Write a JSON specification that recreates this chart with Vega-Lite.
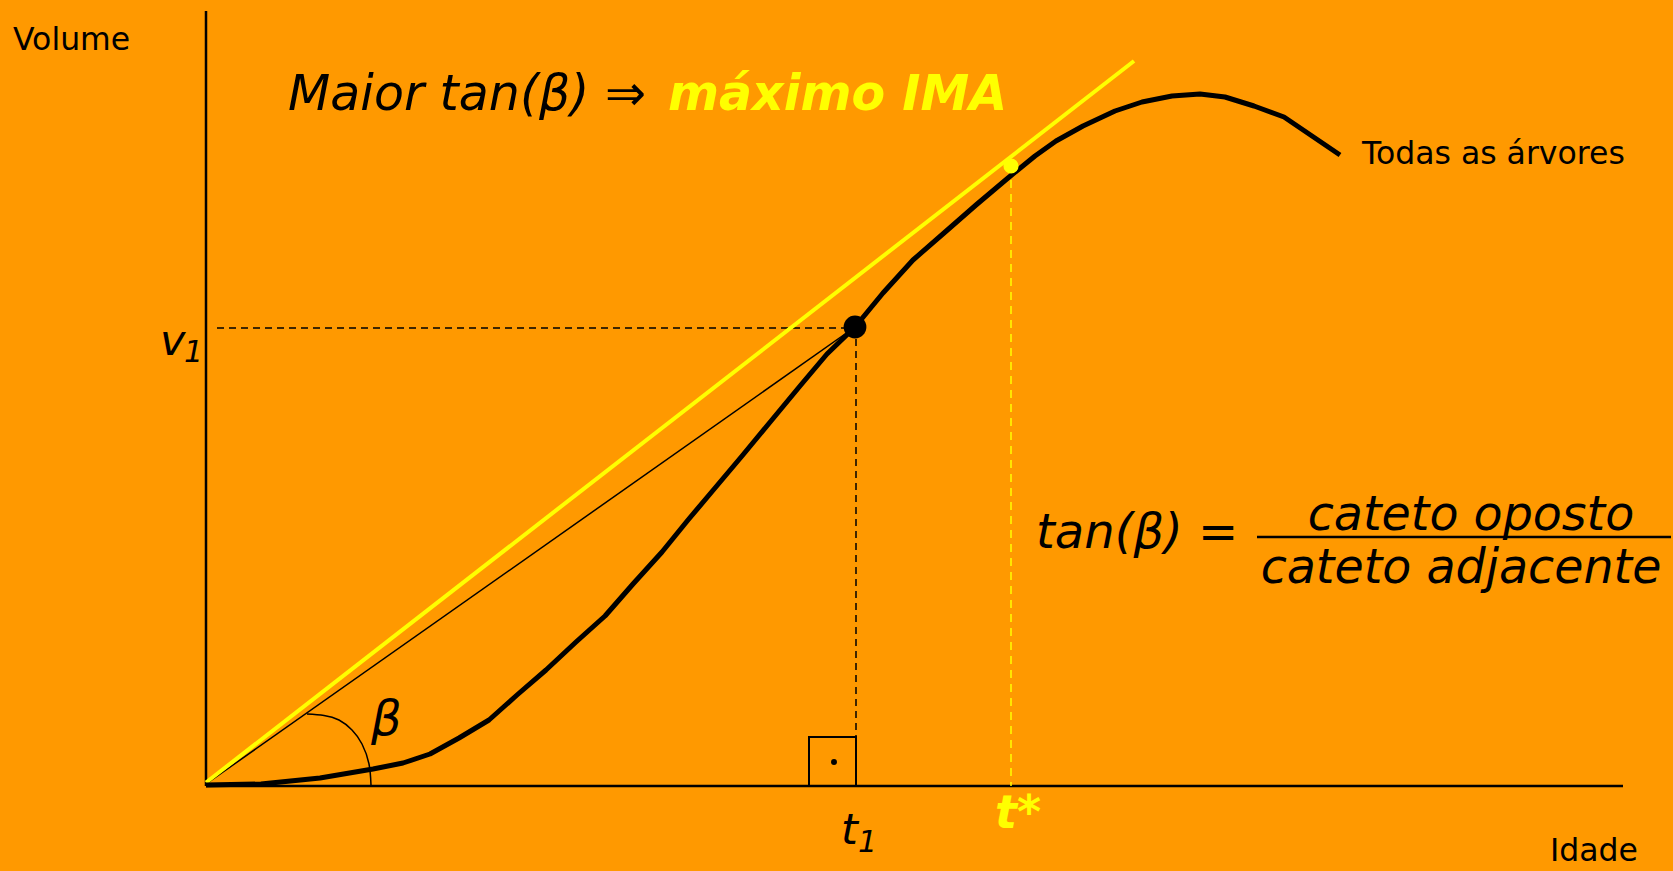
{
  "$schema": "https://vega.github.io/schema/vega-lite/v6.json",
  "width": 1673,
  "height": 871,
  "autosize": {"type": "fit", "contains": "padding"},
  "padding": 0,
  "background": "#FF9900",
  "config": {"view": {"stroke": null}},
  "datasets": {
    "curve": [
      {"x": 0, "y": 0.1}, {"x": 5.5, "y": 0.2}, {"x": 11.4, "y": 0.8}, {"x": 16.7, "y": 1.7},
      {"x": 19.7, "y": 2.3}, {"x": 22.4, "y": 3.2}, {"x": 25.3, "y": 4.8}, {"x": 28.3, "y": 6.6},
      {"x": 31.1, "y": 9.1}, {"x": 34.0, "y": 11.6}, {"x": 37.0, "y": 14.4}, {"x": 39.9, "y": 17.0},
      {"x": 42.7, "y": 20.2}, {"x": 45.6, "y": 23.4}, {"x": 48.2, "y": 26.6}, {"x": 50.9, "y": 29.8},
      {"x": 53.6, "y": 33.0}, {"x": 56.5, "y": 36.5}, {"x": 59.4, "y": 40.0}, {"x": 62.1, "y": 43.2},
      {"x": 64.9, "y": 45.9}, {"x": 67.7, "y": 49.3}, {"x": 70.7, "y": 52.6}, {"x": 73.8, "y": 55.3},
      {"x": 77.0, "y": 58.1}, {"x": 80.2, "y": 60.8}, {"x": 82.9, "y": 63.0}, {"x": 85.0, "y": 64.5},
      {"x": 87.7, "y": 66.0}, {"x": 90.9, "y": 67.5}, {"x": 93.6, "y": 68.4}, {"x": 96.6, "y": 69.0},
      {"x": 99.4, "y": 69.2}, {"x": 101.9, "y": 68.9}, {"x": 104.8, "y": 68.0}, {"x": 107.8, "y": 66.9},
      {"x": 110.6, "y": 65.0}, {"x": 113.4, "y": 63.1}
    ],
    "arc": [
      {"x": 10.1, "y": 7.2}, {"x": 11.8, "y": 7.06}, {"x": 13.3, "y": 6.6}, {"x": 14.6, "y": 5.6},
      {"x": 15.6, "y": 4.2}, {"x": 16.3, "y": 2.2}, {"x": 16.5, "y": 0.1}
    ],
    "axes": [
      {"x": 0, "y": 0, "x2": 141.7, "y2": 0},
      {"x": 0, "y": 0, "x2": 0, "y2": 77.5}
    ],
    "thin": [{"x": 0, "y": 0.2, "x2": 64.9, "y2": 45.9}],
    "tangent": [{"x": 0, "y": 0.35, "x2": 92.8, "y2": 72.5}],
    "blackDash": [
      {"x": 1.1, "y": 45.8, "x2": 64.9, "y2": 45.8},
      {"x": 65.0, "y": 45.9, "x2": 65.0, "y2": 4.9}
    ],
    "yellowDash": [{"x": 80.5, "y": 62.0, "x2": 80.5, "y2": 0}],
    "frac": [{"x": 105.1, "y": 24.9, "x2": 146.5, "y2": 24.9}],
    "box": [{"x": 60.3, "y": 0, "x2": 65.0, "y2": 4.9}],
    "boxDot": [{"x": 62.8, "y": 2.4}],
    "v1point": [{"x": 64.9, "y": 45.9}],
    "tstar": [{"x": 80.5, "y": 62.0}],
    "plainText": [
      {"x": -19.3, "y": 73.6, "label": "Volume"},
      {"x": 115.6, "y": 62.2, "label": "Todas as árvores"},
      {"x": 134.4, "y": -7.5, "label": "Idade"}
    ],
    "italicBig": [
      {"x": -4.6, "y": 43.1, "label": "v"},
      {"x": 63.5, "y": -5.8, "label": "t"}
    ],
    "italicSub": [
      {"x": -2.2, "y": 42.4, "label": "1"},
      {"x": 65.2, "y": -6.6, "label": "1"}
    ],
    "italicMed": [
      {"x": 16.5, "y": 5.1, "label": "β"},
      {"x": 83.0, "y": 23.8, "label": "tan(β) ="}
    ],
    "fracText": [
      {"x": 126.5, "y": 25.6, "label": "cateto oposto"},
      {"x": 125.5, "y": 20.3, "label": "cateto adjacente"}
    ],
    "titleBlack": [{"x": 8.2, "y": 67.6, "label": "Maior tan(β) ⇒"}],
    "titleYellow": [{"x": 46.2, "y": 67.6, "label": "máximo IMA"}],
    "tstarText": [{"x": 78.9, "y": -4.2, "label": "t*"}]
  },
  "encoding": {
    "x": {"field": "x", "type": "quantitative", "scale": {"domain": [-20.6, 146.7], "nice": false, "zero": false}, "axis": null},
    "y": {"field": "y", "type": "quantitative", "scale": {"domain": [-8.5, 78.6], "nice": false, "zero": false}, "axis": null}
  },
  "layer": [
    {"data": {"name": "axes"}, "mark": {"type": "rule", "color": "#000", "strokeWidth": 2.5},
     "encoding": {"x2": {"field": "x2"}, "y2": {"field": "y2"}}},
    {"data": {"name": "blackDash"}, "mark": {"type": "rule", "color": "#000", "strokeWidth": 1.5, "strokeDash": [7, 5]},
     "encoding": {"x2": {"field": "x2"}, "y2": {"field": "y2"}}},
    {"data": {"name": "yellowDash"}, "mark": {"type": "rule", "color": "#FFFF00", "strokeWidth": 1.5, "strokeDash": [8, 6]},
     "encoding": {"x2": {"field": "x2"}, "y2": {"field": "y2"}}},
    {"data": {"name": "frac"}, "mark": {"type": "rule", "color": "#000", "strokeWidth": 2.5},
     "encoding": {"x2": {"field": "x2"}, "y2": {"field": "y2"}}},
    {"data": {"name": "thin"}, "mark": {"type": "rule", "color": "#000", "strokeWidth": 1.5},
     "encoding": {"x2": {"field": "x2"}, "y2": {"field": "y2"}}},
    {"data": {"name": "tangent"}, "mark": {"type": "rule", "color": "#FFFF00", "strokeWidth": 4},
     "encoding": {"x2": {"field": "x2"}, "y2": {"field": "y2"}}},
    {"data": {"name": "arc"}, "mark": {"type": "line", "color": "#000", "strokeWidth": 1.5, "interpolate": "natural"},
     "encoding": {}},
    {"data": {"name": "curve"}, "mark": {"type": "line", "color": "#000", "strokeWidth": 5, "strokeJoin": "round"},
     "encoding": {}},
    {"data": {"name": "box"}, "mark": {"type": "rect", "filled": false, "color": "#000", "strokeWidth": 2},
     "encoding": {"x2": {"field": "x2"}, "y2": {"field": "y2"}}},
    {"data": {"name": "boxDot"}, "mark": {"type": "circle", "color": "#000", "size": 35, "opacity": 1},
     "encoding": {}},
    {"data": {"name": "v1point"}, "mark": {"type": "circle", "color": "#000", "size": 520, "opacity": 1},
     "encoding": {}},
    {"data": {"name": "tstar"}, "mark": {"type": "circle", "color": "#FFFF00", "size": 230, "opacity": 1},
     "encoding": {}},
    {"data": {"name": "plainText"}, "mark": {"type": "text", "font": "DejaVu Sans", "fontSize": 31.5, "align": "left", "baseline": "alphabetic", "color": "#000"},
     "encoding": {"text": {"field": "label"}}},
    {"data": {"name": "italicBig"}, "mark": {"type": "text", "font": "DejaVu Sans", "fontStyle": "italic", "fontSize": 43, "align": "left", "baseline": "alphabetic", "color": "#000"},
     "encoding": {"text": {"field": "label"}}},
    {"data": {"name": "italicSub"}, "mark": {"type": "text", "font": "DejaVu Sans", "fontStyle": "italic", "fontSize": 30, "align": "left", "baseline": "alphabetic", "color": "#000"},
     "encoding": {"text": {"field": "label"}}},
    {"data": {"name": "italicMed"}, "mark": {"type": "text", "font": "DejaVu Sans", "fontStyle": "italic", "fontSize": 48, "align": "left", "baseline": "alphabetic", "color": "#000"},
     "encoding": {"text": {"field": "label"}}},
    {"data": {"name": "fracText"}, "mark": {"type": "text", "font": "DejaVu Sans", "fontStyle": "italic", "fontSize": 47.5, "align": "center", "baseline": "alphabetic", "color": "#000"},
     "encoding": {"text": {"field": "label"}}},
    {"data": {"name": "titleBlack"}, "mark": {"type": "text", "font": "DejaVu Sans", "fontStyle": "italic", "fontSize": 49, "align": "left", "baseline": "alphabetic", "color": "#000"},
     "encoding": {"text": {"field": "label"}}},
    {"data": {"name": "titleYellow"}, "mark": {"type": "text", "font": "DejaVu Sans", "fontStyle": "italic", "fontWeight": "bold", "fontSize": 49, "align": "left", "baseline": "alphabetic", "color": "#FFFF00"},
     "encoding": {"text": {"field": "label"}}},
    {"data": {"name": "tstarText"}, "mark": {"type": "text", "font": "DejaVu Sans", "fontStyle": "italic", "fontWeight": "bold", "fontSize": 46, "align": "left", "baseline": "alphabetic", "color": "#FFFF00"},
     "encoding": {"text": {"field": "label"}}}
  ]
}
